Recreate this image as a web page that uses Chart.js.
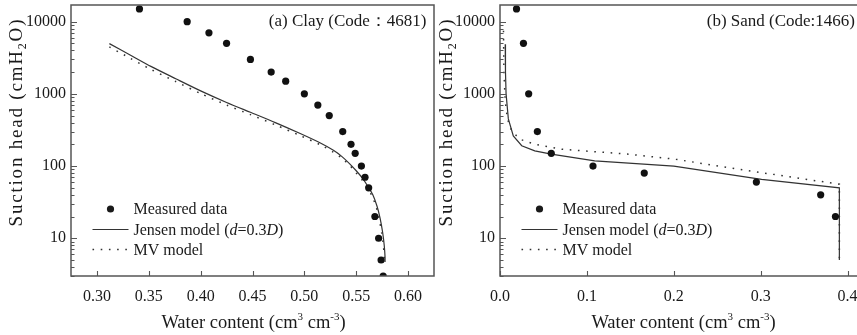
<!DOCTYPE html>
<html>
<head>
<meta charset="utf-8">
<title>Soil water retention curves</title>
<script src="https://cdn.jsdelivr.net/npm/chart.js@4.4.1/dist/chart.umd.min.js"></script>
<style>
html, body { margin:0; padding:0; background:#fff; overflow:hidden; width:857px; height:335px; }
.panel { position:absolute; top:0; }
</style>
</head>
<body>
<div class="panel" style="left:0px"><canvas id="clayChart" width="440" height="335"></canvas></div>
<div class="panel" style="left:430px"><canvas id="sandChart" width="445" height="335"></canvas></div>
<script>
//global values
const fontName = '"Liberation Serif", "Times New Roman", serif';
const inkColor = "#1a1a1a";
const frameColor = "#555555";
const lineColor = "#333333";

// (a) clay, code 4681
const clayTheta = [0.341, 0.387, 0.408, 0.425, 0.448, 0.468, 0.482, 0.500, 0.513, 0.524, 0.537, 0.545, 0.549, 0.555, 0.5585, 0.562, 0.568, 0.5716, 0.574, 0.576];
const clayHead = [15000, 10000, 7000, 5000, 3000, 2000, 1500, 1000, 700, 500, 300, 200, 150, 100, 70, 50, 20, 10, 5, 3];
const clayJensenTheta = [0.312, 0.332, 0.352, 0.376, 0.400, 0.425, 0.448, 0.472, 0.496, 0.515, 0.528, 0.536, 0.5435, 0.550, 0.556, 0.561, 0.566, 0.570, 0.573, 0.5755, 0.577, 0.5778, 0.5778];
const clayJensenHead = [4960, 3450, 2400, 1620, 1100, 760, 555, 400, 282, 210, 165, 136, 108, 86, 68, 53, 40, 28, 19, 12, 8, 5.5, 4.7];
const clayMvTheta = [0.312, 0.332, 0.352, 0.376, 0.400, 0.425, 0.448, 0.472, 0.496, 0.515, 0.528, 0.536, 0.5435, 0.549, 0.555, 0.560, 0.565, 0.569, 0.572, 0.5745, 0.5762, 0.577, 0.5772];
const clayMvHead = [4460, 3120, 2180, 1480, 1010, 700, 515, 372, 264, 198, 156, 129, 103, 83, 66, 52, 39, 28, 19, 12, 8, 5.5, 4.7];
const clayXTicks = [0.30, 0.35, 0.40, 0.45, 0.50, 0.55, 0.60];

// (b) sand, code 1466
const sandTheta = [0.019, 0.027, 0.033, 0.043, 0.059, 0.107, 0.166, 0.295, 0.369, 0.386];
const sandHead = [15000, 5000, 1000, 300, 150, 100, 80, 60, 40, 20];
const sandJensenTheta = [0.006, 0.0063, 0.007, 0.0096, 0.0153, 0.025, 0.040, 0.059, 0.109, 0.200, 0.301, 0.3905, 0.3905];
const sandJensenHead = [4850, 2000, 1000, 450, 261, 191, 162, 146, 118, 100, 65.5, 50, 5];
const sandMvTheta = [0.004, 0.0045, 0.006, 0.0085, 0.0134, 0.023, 0.040, 0.071, 0.148, 0.200, 0.301, 0.3905, 0.3905];
const sandMvHead = [7500, 2000, 800, 450, 307, 235, 200, 171, 146, 125, 81, 56, 5];
const sandXTicks = [0.0, 0.1, 0.2, 0.3, 0.4];

// suction head axis (log)
const headLabels = [10, 100, 1000, 10000];
var headTickValues = [];
[1, 10, 100, 1000, 10000].forEach(function (d) {
    for (var k = 1; k <= 9; k++) {
        if (k * d >= 3 && k * d <= 17000) headTickValues.push(k * d);
    }
});

const xTitleParts = [["Water content (cm", ""], ["3", "sup"], [" cm", ""], ["-3", "sup"], [")", ""]];
const yTitleParts = [["Suction head (cmH", ""], ["2", "sub"], ["O)", ""]];
const jensenParts = [["Jensen model (", ""], ["d", "i"], ["=0.3", ""], ["D", "i"], [")", ""]];

function pts(xs, ys) {
    return xs.map(function (x, i) { return { x: x, y: ys[i] }; });
}

// text with italic / super / subscript pieces, optional extra letter spacing
function drawRich(ctx, parts, x, y, align, size, spacing) {
    spacing = spacing || 0;
    function fontFor(s) {
        var sz = (s === "sup" || s === "sub") ? Math.round(size * 0.62) : size;
        return (s === "i" ? "italic " : "") + sz + "px " + fontName;
    }
    function widthOf(str) {
        if (!spacing) return ctx.measureText(str).width;
        var w = 0;
        for (var i = 0; i < str.length; i++) w += ctx.measureText(str[i]).width + spacing;
        return w;
    }
    var total = 0;
    parts.forEach(function (p) { ctx.font = fontFor(p[1]); total += widthOf(p[0]); });
    total -= spacing;
    var cx = align === "center" ? x - total / 2 : (align === "right" ? x - total : x);
    var base = y + size * 0.33;
    ctx.textAlign = "left";
    ctx.textBaseline = "alphabetic";
    parts.forEach(function (p) {
        ctx.font = fontFor(p[1]);
        var by = base;
        if (p[1] === "sup") by = base - size * 0.4;
        if (p[1] === "sub") by = base + size * 0.18;
        if (!spacing) {
            ctx.fillText(p[0], cx, by);
            cx += ctx.measureText(p[0]).width;
        } else {
            for (var i = 0; i < p[0].length; i++) {
                ctx.fillText(p[0][i], cx, by);
                cx += ctx.measureText(p[0][i]).width + spacing;
            }
        }
    });
}

const mvDash = [1.6, 6.6];

////////////////////////////////////////
// frame, inward ticks, titles and legend
///////////////////////////////////////
const panelDecor = {
    id: "panelDecor",
    afterDraw: function (chart, args, o) {
        var ctx = chart.ctx;
        var a = chart.chartArea;
        var xs = chart.scales.x, ys = chart.scales.y;
        ctx.save();
        ctx.strokeStyle = frameColor;
        ctx.lineWidth = 1.5;
        ctx.strokeRect(a.left, a.top, a.right - a.left, a.bottom - a.top);

        ctx.beginPath();
        xs.ticks.forEach(function (t) {
            var p = Math.round(xs.getPixelForValue(t.value)) + 0.5;
            ctx.moveTo(p, a.bottom);
            ctx.lineTo(p, a.bottom - 5);
        });
        ys.ticks.forEach(function (t) {
            var p = Math.round(ys.getPixelForValue(t.value)) + 0.5;
            var len = headLabels.indexOf(t.value) >= 0 ? 6 : 3.5;
            ctx.moveTo(a.left, p);
            ctx.lineTo(a.left + len, p);
        });
        ctx.lineWidth = 1.1;
        ctx.stroke();

        ctx.fillStyle = inkColor;
        // panel label
        ctx.font = "17px " + fontName;
        ctx.textAlign = "right";
        ctx.textBaseline = "middle";
        ctx.fillText(o.label, o.labelRight, 22);

        // axis titles
        drawRich(ctx, xTitleParts, (a.left + a.right) / 2 + 1, 321.5, "center", 18.5);
        ctx.save();
        ctx.translate(16, 123);
        ctx.rotate(-Math.PI / 2);
        drawRich(ctx, yTitleParts, 0, 0, "center", 19, 1.8);
        ctx.restore();

        // legend
        var lx = a.left;
        ctx.beginPath();
        ctx.arc(lx + 39.5, 209, 3.6, 0, Math.PI * 2);
        ctx.fill();
        ctx.strokeStyle = lineColor;
        ctx.lineWidth = 1.2;
        ctx.beginPath();
        ctx.moveTo(lx + 21.5, 229.5);
        ctx.lineTo(lx + 57.5, 229.5);
        ctx.stroke();
        ctx.setLineDash(mvDash);
        ctx.lineWidth = 1.5;
        ctx.beginPath();
        ctx.moveTo(lx + 21.5, 249.5);
        ctx.lineTo(lx + 57.5, 249.5);
        ctx.stroke();
        ctx.setLineDash([]);
        drawRich(ctx, [["Measured data", ""]], lx + 62.5, 209, "left", 16);
        drawRich(ctx, jensenParts, lx + 62.5, 229.3, "left", 16);
        drawRich(ctx, [["MV model", ""]], lx + 62.5, 249.3, "left", 16);
        ctx.restore();
    }
};

function makePanel(canvasId, s) {
    return new Chart(document.getElementById(canvasId), {
        type: "scatter",
        data: {
            datasets: [{
                label: "Measured data",
                data: pts(s.theta, s.head),
                pointRadius: 3.6,
                pointBackgroundColor: "#111111",
                pointBorderWidth: 0,
                showLine: false
            }, {
                label: "Jensen model (d=0.3D)",
                data: pts(s.jensenTheta, s.jensenHead),
                showLine: true,
                pointRadius: 0,
                borderColor: lineColor,
                borderWidth: 1.2,
                tension: s.tension
            }, {
                label: "MV model",
                data: pts(s.mvTheta, s.mvHead),
                showLine: true,
                pointRadius: 0,
                borderColor: lineColor,
                borderWidth: 1.5,
                borderDash: mvDash,
                tension: s.tension
            }]
        },
        options: {
            responsive: false,
            animation: false,
            events: [],
            layout: { padding: { top: 5, right: s.padRight, bottom: 0, left: 0 } },
            scales: {
                x: {
                    type: "linear",
                    min: s.xMin,
                    max: s.xMax,
                    bounds: "data",
                    grid: { display: false, drawTicks: false },
                    border: { display: false },
                    afterBuildTicks: function (scale) {
                        scale.ticks = s.xTicks.map(function (v) { return { value: v }; });
                    },
                    afterFit: function (scale) {
                        scale.height = 59;
                        scale.paddingLeft = 0;
                        scale.paddingRight = 0;
                    },
                    ticks: {
                        autoSkip: false,
                        maxRotation: 0,
                        padding: 11,
                        color: inkColor,
                        font: { family: fontName, size: 16 },
                        callback: function (v) { return Number(v).toFixed(s.decimals); }
                    }
                },
                y: {
                    type: "logarithmic",
                    min: 3,
                    max: 17000,
                    bounds: "data",
                    grid: { display: false, drawTicks: false },
                    border: { display: false },
                    afterBuildTicks: function (scale) {
                        scale.ticks = headTickValues.map(function (v) { return { value: v }; });
                    },
                    afterFit: function (scale) {
                        scale.width = s.yWidth;
                        scale.paddingTop = 0;
                        scale.paddingBottom = 0;
                    },
                    ticks: {
                        autoSkip: false,
                        padding: 5,
                        color: inkColor,
                        font: { family: fontName, size: 16 },
                        callback: function (v) { return headLabels.indexOf(v) >= 0 ? String(v) : ""; }
                    }
                }
            },
            plugins: {
                legend: { display: false },
                tooltip: { enabled: false },
                panelDecor: { label: s.label, labelRight: s.labelRight }
            }
        },
        plugins: [panelDecor]
    });
}

makePanel("clayChart", {
    theta: clayTheta, head: clayHead,
    jensenTheta: clayJensenTheta, jensenHead: clayJensenHead,
    mvTheta: clayMvTheta, mvHead: clayMvHead,
    xTicks: clayXTicks, xMin: 0.275, xMax: 0.625, decimals: 2,
    yWidth: 71, padRight: 6, tension: 0.25,
    label: "(a) Clay (Code\uFF1A4681)", labelRight: 426.5
});

makePanel("sandChart", {
    theta: sandTheta, head: sandHead,
    jensenTheta: sandJensenTheta, jensenHead: sandJensenHead,
    mvTheta: sandMvTheta, mvHead: sandMvHead,
    xTicks: sandXTicks, xMin: 0, xMax: 0.42, decimals: 1,
    yWidth: 70, padRight: 10, tension: 0,
    label: "(b) Sand (Code:1466)", labelRight: 425
});
</script>
</body>
</html>
